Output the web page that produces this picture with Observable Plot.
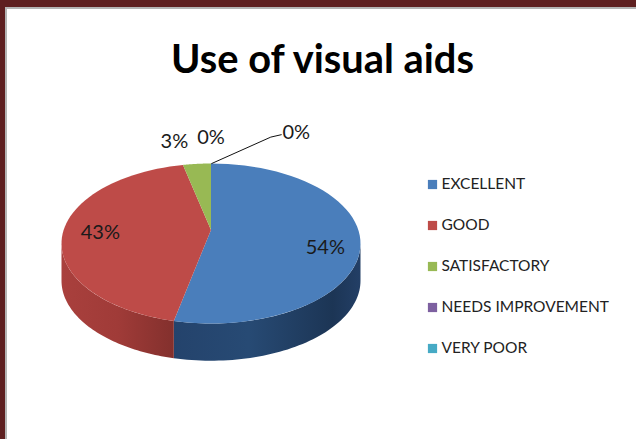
<!DOCTYPE html>
<html>
<head>
<meta charset="utf-8">
<script src="https://cdn.jsdelivr.net/npm/d3@7"></script>
<script src="https://cdn.jsdelivr.net/npm/@observablehq/plot@0.6"></script>
<style>
  html, body { margin: 0; padding: 0; background: #fff; }
  #page { position: relative; width: 636px; height: 439px; overflow: hidden; background: #fff; }
  #frame { position: absolute; inset: 0; border-top: 7px solid #5e1f20; border-left: 5px solid #5e1f20; box-sizing: border-box; }
  #frame::after { content: ""; position: absolute; inset: 0; border-top: 2px solid #b4b4b4; border-left: 2px solid #b4b4b4; }
  #title { position: absolute; left: 0; top: 36px; width: 645px; text-align: center; margin: 0;
           font: 700 39.8px/44px Lato, sans-serif; color: #000; }
  #pie { position: absolute; left: 0; top: 0; }
  #legend { position: absolute; left: 415px; top: 0; }
  svg { display: block; background: transparent !important; }
</style>
</head>
<body>
<div id="page">
  <div id="frame"></div>
  <h1 id="title">Use of visual aids</h1>
  <div id="pie"></div>
  <div id="legend"></div>
</div>
<script>
const categories = ["EXCELLENT", "GOOD", "SATISFACTORY", "NEEDS IMPROVEMENT", "VERY POOR"];
const values = [54, 43, 3, 0, 0];
const valueLabels = ["54%", "43%", "3%", "0%", "0%"];
const colors = ["#4a7ebb", "#be4b48", "#98b954", "#7d60a0", "#46aac5"];

// Drawing parameters of the tilted pie, in units of the ellipse radius
const apexY = 0.17;
const depth = 0.465;
const labelAnchors = [[0.765, -0.05], [-0.74, 0.14], [-0.245, 1.275], [0, 1.32], [0.57, 1.39]];
const leader = [[0.005, 1], [0.40, 1.33], [0.47, 1.36]];

const arcs = d3.pie().sort(null).value((d, i) => values[i])(categories);
const px = a => Math.sin(a);
const py = a => Math.cos(a);
const sweep = (a0, a1) => d3.range(0, 61).map(i => a0 + (a1 - a0) * i / 60);

const topRows = arcs.filter(a => a.value > 0).flatMap(a => [
  {slice: a.data, x: 0, y: apexY},
  ...sweep(a.startAngle, a.endAngle).map(t => ({slice: a.data, x: px(t), y: py(t)}))
]);

function sideRows(a) {
  const a0 = Math.max(a.startAngle, Math.PI / 2);
  const a1 = Math.min(a.endAngle, Math.PI * 3 / 2);
  const s = sweep(a0, a1);
  return [
    ...s.map(t => ({x: px(t), y: py(t)})),
    ...s.slice().reverse().map(t => ({x: px(t), y: py(t) - depth}))
  ];
}

const labelRows = categories.map((c, i) => ({
  label: valueLabels[i], x: labelAnchors[i][0], y: labelAnchors[i][1]
}));
const leaderRows = leader.map(([x, y]) => ({x, y}));

function gradients() {
  const defs = d3.create("svg:defs");
  const add = (id, stops) => {
    const g = defs.append("linearGradient").attr("id", id);
    stops.forEach(([o, c]) => g.append("stop").attr("offset", o).attr("stop-color", c));
  };
  add("sideBlue", [[0, "#24436c"], [0.4, "#274a74"], [0.85, "#1c3555"], [1, "#233f66"]]);
  add("sideRed", [[0, "#a9403d"], [0.5, "#a03b38"], [1, "#83302d"]]);
  return defs.node();
}

document.getElementById("pie").append(Plot.plot({
  width: 415, height: 439,
  margin: 0,
  x: {domain: [-1, 1], range: [61, 360], axis: null},
  y: {domain: [-1, 1], range: [323, 163], axis: null},
  color: {domain: categories, range: colors},
  style: {background: "transparent"},
  marks: [
    gradients,
    Plot.line(sideRows(arcs[0]), {x: "x", y: "y", fill: "url(#sideBlue)", stroke: "none"}),
    Plot.line(sideRows(arcs[1]), {x: "x", y: "y", fill: "url(#sideRed)", stroke: "none"}),
    Plot.line(topRows, {x: "x", y: "y", z: "slice", fill: "slice", stroke: "none"}),
    Plot.line(leaderRows, {x: "x", y: "y", stroke: "#111", strokeWidth: 1}),
    Plot.text(labelRows, {x: "x", y: "y", text: "label", fontSize: 20, fontFamily: "Lato, sans-serif", fill: "#1a1a1a"})
  ]
}));

document.getElementById("legend").append(Plot.plot({
  width: 221, height: 439,
  margin: 0,
  x: {domain: [0, 1], range: [17, 200], axis: null},
  y: {type: "point", domain: categories, range: [182, 349], padding: 0, axis: null},
  color: {domain: categories, range: colors},
  style: {background: "transparent"},
  marks: [
    Plot.dot(categories, {x: () => 0, y: d => d, fill: d => d, symbol: "square", r: 5.2, stroke: "none"}),
    Plot.text(categories, {x: () => 0, y: d => d, text: d => d, dx: 9, textAnchor: "start", fontSize: 15.5, fontFamily: "Lato, sans-serif", fill: "#222"})
  ]
}));
</script>
</body>
</html>
